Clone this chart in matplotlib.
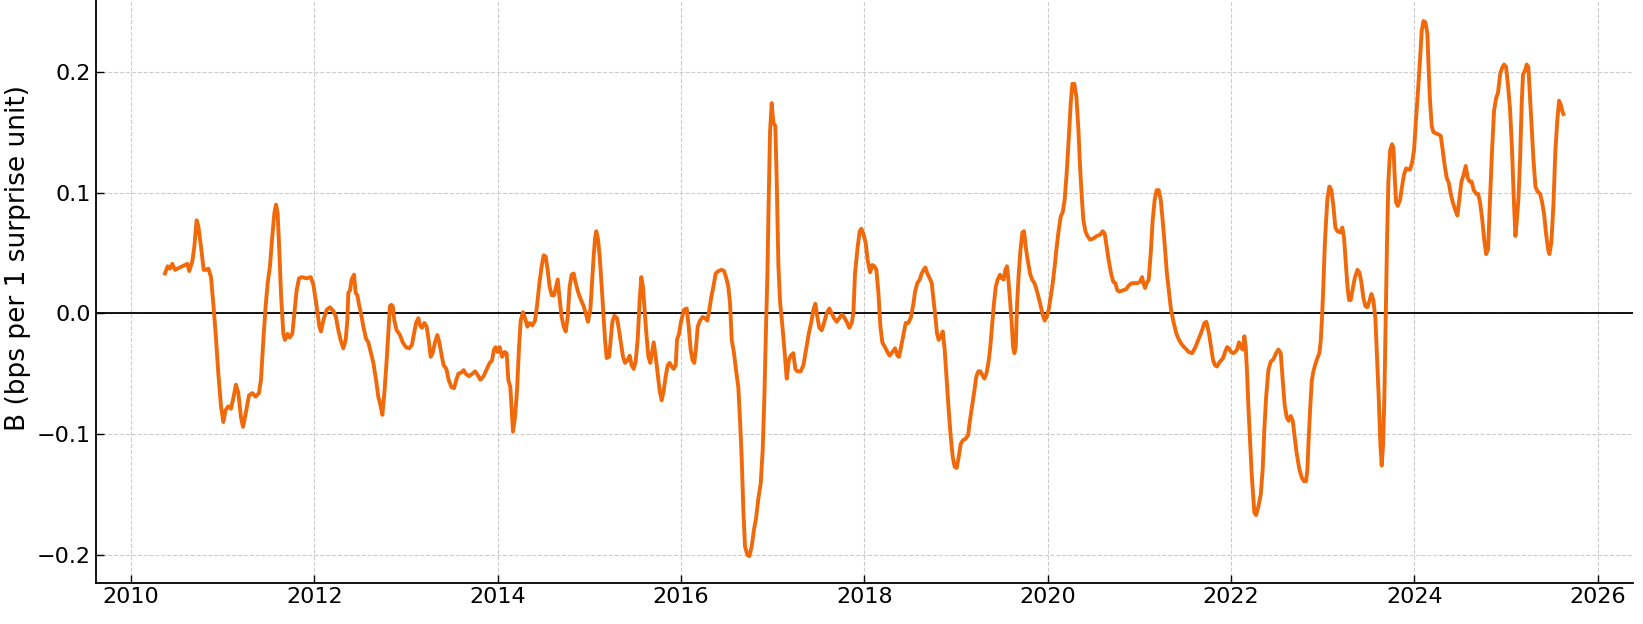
import matplotlib
matplotlib.use("Agg")
import matplotlib.pyplot as plt
import numpy as np

# rolling beta (decimal years)
years = [
    2010.371, 2010.400, 2010.425, 2010.451, 2010.480, 2010.535, 2010.589, 2010.615, 2010.636, 2010.669,
    2010.691, 2010.716, 2010.735, 2010.764, 2010.793, 2010.815, 2010.844, 2010.873, 2010.898, 2010.924,
    2010.953, 2010.982, 2011.007, 2011.033, 2011.062, 2011.091, 2011.120, 2011.145, 2011.171, 2011.200,
    2011.222, 2011.251, 2011.287, 2011.324, 2011.360, 2011.396, 2011.418, 2011.444, 2011.469, 2011.491,
    2011.516, 2011.542, 2011.564, 2011.582, 2011.600, 2011.618, 2011.636, 2011.662, 2011.680, 2011.709,
    2011.731, 2011.760, 2011.782, 2011.807, 2011.833, 2011.862, 2011.916, 2011.960, 2011.989, 2012.025,
    2012.055, 2012.073, 2012.098, 2012.135, 2012.171, 2012.207, 2012.236, 2012.262, 2012.287, 2012.316,
    2012.342, 2012.360, 2012.371, 2012.389, 2012.407, 2012.433, 2012.451, 2012.469, 2012.491, 2012.509,
    2012.535, 2012.564, 2012.589, 2012.615, 2012.644, 2012.673, 2012.698, 2012.724, 2012.742, 2012.764,
    2012.789, 2012.811, 2012.825, 2012.840, 2012.855, 2012.873, 2012.898, 2012.935, 2012.964, 2013.000,
    2013.036, 2013.065, 2013.087, 2013.109, 2013.135, 2013.153, 2013.175, 2013.200, 2013.225, 2013.247,
    2013.269, 2013.291, 2013.316, 2013.342, 2013.364, 2013.389, 2013.411, 2013.440, 2013.465, 2013.495,
    2013.524, 2013.549, 2013.571, 2013.604, 2013.629, 2013.651, 2013.687, 2013.724, 2013.753, 2013.782,
    2013.811, 2013.847, 2013.876, 2013.913, 2013.938, 2013.960, 2013.978, 2014.000, 2014.022, 2014.047,
    2014.076, 2014.098, 2014.116, 2014.138, 2014.153, 2014.167, 2014.189, 2014.211, 2014.233, 2014.251,
    2014.276, 2014.298, 2014.324, 2014.349, 2014.378, 2014.407, 2014.429, 2014.455, 2014.480, 2014.502,
    2014.524, 2014.545, 2014.567, 2014.589, 2014.615, 2014.633, 2014.655, 2014.673, 2014.698, 2014.720,
    2014.742, 2014.764, 2014.785, 2014.807, 2014.829, 2014.851, 2014.880, 2014.909, 2014.938, 2014.964,
    2014.985, 2015.011, 2015.029, 2015.047, 2015.062, 2015.076, 2015.095, 2015.113, 2015.135, 2015.153,
    2015.171, 2015.189, 2015.215, 2015.233, 2015.251, 2015.273, 2015.302, 2015.324, 2015.345, 2015.367,
    2015.389, 2015.415, 2015.440, 2015.462, 2015.484, 2015.505, 2015.527, 2015.549, 2015.567, 2015.585,
    2015.600, 2015.622, 2015.644, 2015.665, 2015.684, 2015.702, 2015.724, 2015.745, 2015.767, 2015.789,
    2015.811, 2015.833, 2015.855, 2015.876, 2015.898, 2015.920, 2015.942, 2015.956, 2015.978, 2016.000,
    2016.033, 2016.062, 2016.084, 2016.105, 2016.127, 2016.145, 2016.164, 2016.182, 2016.207, 2016.236,
    2016.262, 2016.287, 2016.309, 2016.331, 2016.353, 2016.378, 2016.407, 2016.444, 2016.469, 2016.491,
    2016.516, 2016.535, 2016.553, 2016.578, 2016.600, 2016.625, 2016.644, 2016.662, 2016.680, 2016.698,
    2016.724, 2016.745, 2016.771, 2016.796, 2016.818, 2016.844, 2016.869, 2016.891, 2016.909, 2016.927,
    2016.942, 2016.957, 2016.971, 2016.989, 2017.007, 2017.029, 2017.044, 2017.062, 2017.080, 2017.105,
    2017.131, 2017.153, 2017.175, 2017.196, 2017.225, 2017.247, 2017.269, 2017.305, 2017.335, 2017.364,
    2017.393, 2017.422, 2017.444, 2017.465, 2017.487, 2017.509, 2017.535, 2017.560, 2017.589, 2017.618,
    2017.644, 2017.669, 2017.698, 2017.727, 2017.753, 2017.778, 2017.807, 2017.836, 2017.862, 2017.880,
    2017.898, 2017.927, 2017.949, 2017.967, 2017.989, 2018.015, 2018.036, 2018.062, 2018.087, 2018.109,
    2018.131, 2018.153, 2018.175, 2018.196, 2018.225, 2018.251, 2018.276, 2018.305, 2018.335, 2018.360,
    2018.378, 2018.400, 2018.425, 2018.451, 2018.480, 2018.509, 2018.535, 2018.553, 2018.578, 2018.604,
    2018.625, 2018.647, 2018.665, 2018.687, 2018.713, 2018.735, 2018.753, 2018.775, 2018.793, 2018.811,
    2018.833, 2018.855, 2018.876, 2018.898, 2018.920, 2018.942, 2018.964, 2018.985, 2019.007, 2019.029,
    2019.051, 2019.076, 2019.102, 2019.131, 2019.153, 2019.175, 2019.200, 2019.222, 2019.244, 2019.265,
    2019.287, 2019.309, 2019.331, 2019.353, 2019.371, 2019.389, 2019.411, 2019.433, 2019.455, 2019.480,
    2019.498, 2019.520, 2019.538, 2019.556, 2019.571, 2019.589, 2019.607, 2019.622, 2019.636, 2019.651,
    2019.665, 2019.684, 2019.702, 2019.724, 2019.742, 2019.760, 2019.782, 2019.807, 2019.829, 2019.855,
    2019.873, 2019.898, 2019.924, 2019.945, 2019.967, 2019.989, 2020.011, 2020.033, 2020.055, 2020.076,
    2020.098, 2020.120, 2020.142, 2020.164, 2020.185, 2020.207, 2020.229, 2020.251, 2020.269, 2020.291,
    2020.313, 2020.335, 2020.353, 2020.371, 2020.389, 2020.411, 2020.433, 2020.462, 2020.498, 2020.535,
    2020.571, 2020.600, 2020.622, 2020.644, 2020.665, 2020.691, 2020.716, 2020.738, 2020.760, 2020.782,
    2020.818, 2020.855, 2020.884, 2020.916, 2020.953, 2020.978, 2021.007, 2021.029, 2021.044, 2021.062,
    2021.080, 2021.102, 2021.124, 2021.145, 2021.167, 2021.189, 2021.211, 2021.233, 2021.256, 2021.278,
    2021.300, 2021.324, 2021.345, 2021.375, 2021.404, 2021.433, 2021.465, 2021.502, 2021.538, 2021.575,
    2021.611, 2021.647, 2021.684, 2021.709, 2021.731, 2021.760, 2021.782, 2021.804, 2021.825, 2021.847,
    2021.869, 2021.891, 2021.913, 2021.935, 2021.956, 2021.978, 2022.000, 2022.022, 2022.044, 2022.065,
    2022.087, 2022.109, 2022.127, 2022.145, 2022.160, 2022.175, 2022.189, 2022.207, 2022.225, 2022.240,
    2022.254, 2022.273, 2022.298, 2022.324, 2022.345, 2022.363, 2022.382, 2022.407, 2022.433, 2022.462,
    2022.491, 2022.516, 2022.542, 2022.564, 2022.585, 2022.607, 2022.629, 2022.651, 2022.673, 2022.695,
    2022.716, 2022.745, 2022.771, 2022.796, 2022.818, 2022.833, 2022.847, 2022.862, 2022.880, 2022.898,
    2022.920, 2022.942, 2022.963, 2022.978, 2022.992, 2023.007, 2023.022, 2023.036, 2023.051, 2023.073,
    2023.094, 2023.116, 2023.138, 2023.160, 2023.189, 2023.214, 2023.233, 2023.251, 2023.269, 2023.287,
    2023.305, 2023.327, 2023.349, 2023.378, 2023.400, 2023.421, 2023.443, 2023.465, 2023.487, 2023.509,
    2023.531, 2023.552, 2023.574, 2023.593, 2023.611, 2023.629, 2023.643, 2023.658, 2023.672, 2023.687,
    2023.702, 2023.716, 2023.735, 2023.756, 2023.771, 2023.786, 2023.800, 2023.818, 2023.844, 2023.865,
    2023.887, 2023.909, 2023.931, 2023.953, 2023.975, 2023.996, 2024.018, 2024.040, 2024.062, 2024.080,
    2024.098, 2024.120, 2024.142, 2024.156, 2024.171, 2024.189, 2024.207, 2024.236, 2024.265, 2024.287,
    2024.309, 2024.331, 2024.353, 2024.375, 2024.396, 2024.418, 2024.444, 2024.469, 2024.491, 2024.513,
    2024.534, 2024.560, 2024.582, 2024.604, 2024.625, 2024.647, 2024.673, 2024.695, 2024.716, 2024.738,
    2024.760, 2024.782, 2024.804, 2024.825, 2024.847, 2024.869, 2024.891, 2024.913, 2024.935, 2024.956,
    2024.978, 2025.000, 2025.022, 2025.044, 2025.065, 2025.084, 2025.102, 2025.116, 2025.135, 2025.153,
    2025.171, 2025.185, 2025.207, 2025.225, 2025.243, 2025.262, 2025.280, 2025.298, 2025.320, 2025.342,
    2025.371, 2025.393, 2025.415, 2025.436, 2025.458, 2025.473, 2025.494, 2025.516, 2025.538, 2025.560,
    2025.578, 2025.596, 2025.611, 2025.625,
]

beta = [
    0.033, 0.039, 0.037, 0.041, 0.036, 0.038, 0.040, 0.041, 0.035, 0.043,
    0.055, 0.077, 0.072, 0.055, 0.036, 0.036, 0.037, 0.030, 0.008, -0.017,
    -0.050, -0.077, -0.090, -0.080, -0.077, -0.079, -0.069, -0.059, -0.066, -0.086,
    -0.094, -0.083, -0.068, -0.066, -0.069, -0.066, -0.055, -0.022, 0.006, 0.025,
    0.039, 0.064, 0.083, 0.090, 0.083, 0.052, 0.017, -0.017, -0.022, -0.017,
    -0.020, -0.017, 0.000, 0.019, 0.029, 0.030, 0.029, 0.030, 0.024, 0.006,
    -0.011, -0.015, -0.006, 0.003, 0.005, 0.002, -0.003, -0.014, -0.022, -0.029,
    -0.022, -0.006, 0.017, 0.019, 0.028, 0.032, 0.017, 0.015, 0.006, 0.000,
    -0.011, -0.021, -0.024, -0.032, -0.041, -0.055, -0.069, -0.077, -0.084, -0.066,
    -0.039, -0.011, 0.006, 0.007, 0.006, -0.006, -0.014, -0.018, -0.024, -0.028,
    -0.029, -0.026, -0.017, -0.008, -0.004, -0.010, -0.012, -0.008, -0.011, -0.022,
    -0.036, -0.033, -0.024, -0.018, -0.024, -0.035, -0.043, -0.046, -0.055, -0.061,
    -0.062, -0.055, -0.050, -0.049, -0.047, -0.050, -0.052, -0.050, -0.048, -0.051,
    -0.055, -0.052, -0.047, -0.041, -0.039, -0.030, -0.028, -0.032, -0.028, -0.036,
    -0.032, -0.033, -0.055, -0.061, -0.080, -0.098, -0.086, -0.064, -0.028, -0.006,
    0.001, -0.004, -0.011, -0.008, -0.010, -0.006, 0.006, 0.025, 0.039, 0.048,
    0.047, 0.036, 0.022, 0.015, 0.015, 0.021, 0.028, 0.014, -0.003, -0.011,
    -0.015, -0.003, 0.022, 0.032, 0.033, 0.025, 0.017, 0.011, 0.006, -0.001,
    -0.007, 0.003, 0.025, 0.047, 0.062, 0.068, 0.061, 0.047, 0.022, 0.000,
    -0.022, -0.037, -0.036, -0.022, -0.007, -0.002, -0.004, -0.014, -0.025, -0.036,
    -0.041, -0.039, -0.035, -0.043, -0.046, -0.040, -0.022, 0.011, 0.030, 0.022,
    0.006, -0.017, -0.036, -0.041, -0.032, -0.024, -0.036, -0.050, -0.064, -0.072,
    -0.064, -0.052, -0.043, -0.041, -0.044, -0.046, -0.043, -0.022, -0.017, -0.007,
    0.003, 0.004, -0.011, -0.030, -0.039, -0.041, -0.028, -0.011, -0.006, -0.003,
    -0.004, -0.006, 0.003, 0.014, 0.022, 0.033, 0.035, 0.036, 0.035, 0.030,
    0.022, 0.008, -0.022, -0.033, -0.047, -0.061, -0.089, -0.120, -0.163, -0.193,
    -0.200, -0.201, -0.193, -0.179, -0.170, -0.153, -0.141, -0.113, -0.070, -0.012,
    0.031, 0.096, 0.150, 0.174, 0.158, 0.155, 0.110, 0.040, 0.010, -0.010,
    -0.033, -0.054, -0.039, -0.035, -0.033, -0.046, -0.048, -0.048, -0.043, -0.030,
    -0.017, -0.007, 0.003, 0.008, -0.003, -0.012, -0.014, -0.008, 0.000, 0.004,
    0.000, -0.004, -0.007, -0.004, -0.001, -0.003, -0.007, -0.012, -0.008, 0.000,
    0.033, 0.055, 0.068, 0.070, 0.066, 0.058, 0.044, 0.034, 0.040, 0.039,
    0.036, 0.017, -0.011, -0.024, -0.028, -0.032, -0.035, -0.032, -0.029, -0.035,
    -0.036, -0.028, -0.018, -0.008, -0.008, -0.003, 0.008, 0.018, 0.025, 0.028,
    0.033, 0.036, 0.038, 0.033, 0.029, 0.025, 0.012, -0.003, -0.017, -0.022,
    -0.019, -0.015, -0.030, -0.055, -0.080, -0.102, -0.119, -0.127, -0.128, -0.119,
    -0.108, -0.105, -0.104, -0.101, -0.088, -0.077, -0.064, -0.052, -0.048, -0.048,
    -0.051, -0.054, -0.050, -0.041, -0.030, -0.014, 0.006, 0.022, 0.028, 0.032,
    0.029, 0.028, 0.036, 0.039, 0.028, 0.011, -0.008, -0.028, -0.033, -0.028,
    0.006, 0.033, 0.052, 0.067, 0.068, 0.055, 0.044, 0.033, 0.028, 0.025,
    0.021, 0.014, 0.006, -0.001, -0.006, -0.003, 0.003, 0.014, 0.025, 0.039,
    0.055, 0.069, 0.080, 0.084, 0.094, 0.116, 0.144, 0.174, 0.190, 0.190,
    0.179, 0.152, 0.121, 0.097, 0.077, 0.068, 0.064, 0.061, 0.062, 0.064,
    0.065, 0.068, 0.066, 0.055, 0.044, 0.033, 0.026, 0.025, 0.019, 0.018,
    0.019, 0.020, 0.023, 0.025, 0.025, 0.025, 0.026, 0.030, 0.025, 0.021,
    0.025, 0.028, 0.050, 0.077, 0.094, 0.102, 0.102, 0.094, 0.075, 0.055,
    0.033, 0.017, 0.003, -0.008, -0.017, -0.022, -0.026, -0.029, -0.032, -0.033,
    -0.028, -0.021, -0.014, -0.008, -0.007, -0.017, -0.028, -0.039, -0.043, -0.044,
    -0.041, -0.039, -0.037, -0.032, -0.028, -0.029, -0.032, -0.033, -0.032, -0.030,
    -0.024, -0.028, -0.030, -0.019, -0.028, -0.050, -0.077, -0.105, -0.133, -0.150,
    -0.165, -0.167, -0.160, -0.150, -0.129, -0.096, -0.070, -0.047, -0.040, -0.038,
    -0.033, -0.030, -0.033, -0.056, -0.076, -0.086, -0.089, -0.085, -0.089, -0.103,
    -0.116, -0.129, -0.136, -0.139, -0.139, -0.129, -0.103, -0.080, -0.056, -0.048,
    -0.042, -0.037, -0.033, -0.023, -0.004, 0.023, 0.056, 0.076, 0.095, 0.105,
    0.102, 0.089, 0.071, 0.068, 0.067, 0.071, 0.062, 0.043, 0.023, 0.011,
    0.011, 0.020, 0.029, 0.036, 0.034, 0.026, 0.013, 0.006, 0.005, 0.010,
    0.016, 0.011, -0.004, -0.037, -0.070, -0.109, -0.126, -0.109, -0.070, -0.004,
    0.062, 0.109, 0.135, 0.140, 0.137, 0.112, 0.092, 0.089, 0.094, 0.105,
    0.115, 0.120, 0.119, 0.119, 0.125, 0.135, 0.161, 0.185, 0.211, 0.234,
    0.242, 0.241, 0.231, 0.201, 0.175, 0.155, 0.150, 0.149, 0.148, 0.147,
    0.135, 0.122, 0.112, 0.108, 0.099, 0.092, 0.086, 0.081, 0.095, 0.109,
    0.114, 0.122, 0.112, 0.109, 0.109, 0.102, 0.099, 0.099, 0.092, 0.079,
    0.062, 0.049, 0.053, 0.095, 0.135, 0.168, 0.178, 0.183, 0.198, 0.203,
    0.206, 0.204, 0.188, 0.168, 0.135, 0.095, 0.064, 0.076, 0.095, 0.128,
    0.175, 0.198, 0.201, 0.206, 0.204, 0.178, 0.152, 0.128, 0.105, 0.101,
    0.099, 0.092, 0.082, 0.066, 0.053, 0.049, 0.059, 0.089, 0.135, 0.161,
    0.176, 0.173, 0.168, 0.165,
]

xticks = [2010, 2012, 2014, 2016, 2018, 2020, 2022, 2024, 2026]
yticks = [-0.2, -0.1, 0.0, 0.1, 0.2]
line_color = '#f06a0c'

plt.rcParams['font.family'] = 'DejaVu Sans'

fig = plt.figure(figsize=(16.43, 6.24), dpi=100)
ax = fig.add_axes([95.5 / 1643, 41.4 / 624, 1537 / 1643, 582.6 / 624])

ax.plot(years, beta, color=line_color, linewidth=2.8, zorder=3)
ax.axhline(0, color='black', linewidth=1.3, zorder=2)

ax.set_xlim(2009.613, 2026.379)
ax.set_ylim(-0.2229, 0.2594)
ax.set_xticks(xticks)
ax.set_xticklabels([str(x) for x in xticks])
ax.set_yticks(yticks)

ax.grid(True, linestyle='--', linewidth=0.8, color='#cccccc')
ax.set_axisbelow(True)
ax.tick_params(direction='in', length=6, width=1, labelsize=16)
ax.spines['top'].set_visible(False)
ax.spines['right'].set_visible(False)
ax.spines['left'].set_linewidth(1.3)
ax.spines['bottom'].set_linewidth(1.3)

ax.set_ylabel('B (bps per 1 surprise unit)', fontsize=19)
ax.yaxis.set_label_coords(-0.042, 0.557)

fig.savefig('out.png', dpi=100)
